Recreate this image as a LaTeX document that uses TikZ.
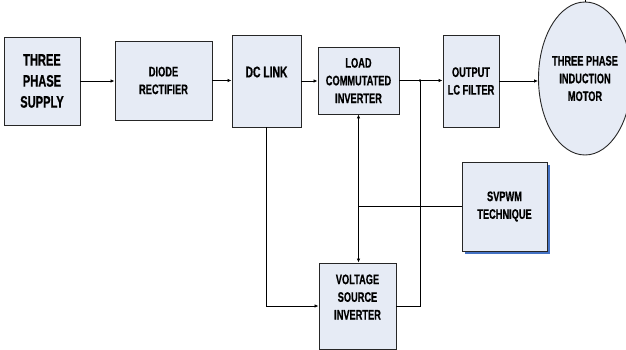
\documentclass[tikz,border=0pt]{standalone}
\usepackage{fontspec}
\setmainfont{Liberation Sans}[FakeStretch=0.67, BoldFeatures={FakeBold=0.6}]
\usetikzlibrary{arrows.meta,shapes.geometric,shadows}
\definecolor{boxfill}{RGB}{230,235,245}
\definecolor{shadowblue}{RGB}{68,114,196}

\tikzset{
  block/.style={draw=black!85, fill=boxfill, line width=0.9pt, inner sep=2pt, align=center,
    font=\bfseries\fontsize{13.8}{17.7}\selectfont},
  label text/.style={align=center, font=\bfseries\fontsize{13.8}{17.7}\selectfont},
  wire/.style={line width=0.8pt},
  feed/.style={wire, -{Latex[length=4pt,width=3.5pt]}},
}

\begin{document}
\begin{tikzpicture}[x=1pt,y=-1pt]
\useasboundingbox (0,0) rectangle (626,350);
\clip (0,0) rectangle (626,350);

% power path along the top
\node[block, minimum width=76, minimum height=88, font=\bfseries\fontsize{16.6}{21}\selectfont] (supply) at (42,81) {THREE\\PHASE\\SUPPLY};
\node[block, minimum width=97, minimum height=79] (rectifier) at (163.5,80.5) {DIODE\\RECTIFIER};
\node[block, minimum width=69, minimum height=92] (dclink) at (266.5,81) {};
\node[label text, font=\bfseries\fontsize{15.4}{18}\selectfont] (dctext) at (266.5,72) {DC LINK};
\node[block, minimum width=81, minimum height=67] (lci) at (358.5,80.5) {LOAD\\COMMUTATED\\INVERTER};
\node[block, minimum width=56, minimum height=92] (filter) at (471,81) {OUTPUT\\LC FILTER};
\node[block, ellipse, inner sep=0pt, minimum width=88, minimum height=153] (motor) at (585,78.5) {THREE PHASE\\INDUCTION\\MOTOR};

% control side
\node[block, minimum width=77, minimum height=86] (vsi) at (357.5,306) {};
\node[label text] (vsitext) at (357.5,297) {VOLTAGE\\SOURCE\\INVERTER};
\node[block, minimum width=85, minimum height=89,
  drop shadow={shadow xshift=3pt, shadow yshift=-3pt, fill=shadowblue, opacity=1}] (svpwm) at (504.5,206.5) {SVPWM\\TECHNIQUE};

\coordinate (tap) at (420,80.5);
\coordinate (split) at (lci.south |- svpwm.west);

\draw[feed] (supply.east) -- (supply.east -| rectifier.west);
\draw[feed] (rectifier.east) -- (rectifier.east -| dclink.west);
\draw[feed] (dclink.east) -- (dclink.east -| lci.west);
\draw[feed] (lci.east) -- (tap) -- (tap -| filter.west);
\fill (tap) circle (1.3);
\draw[feed] (filter.east) -- (filter.east -| motor.west);
\draw[wire] (motor.north) -- ++(0,-6);

\draw[feed] (dclink.south) |- (vsi.west);
\draw[wire] (vsi.east) -| (tap);
\draw[wire, line width=1.2pt] (svpwm.west) -- (split);
\draw[feed] (split) -- (lci.south);
\draw[feed] (split) -- (split |- vsi.north);
\end{tikzpicture}
\end{document}
